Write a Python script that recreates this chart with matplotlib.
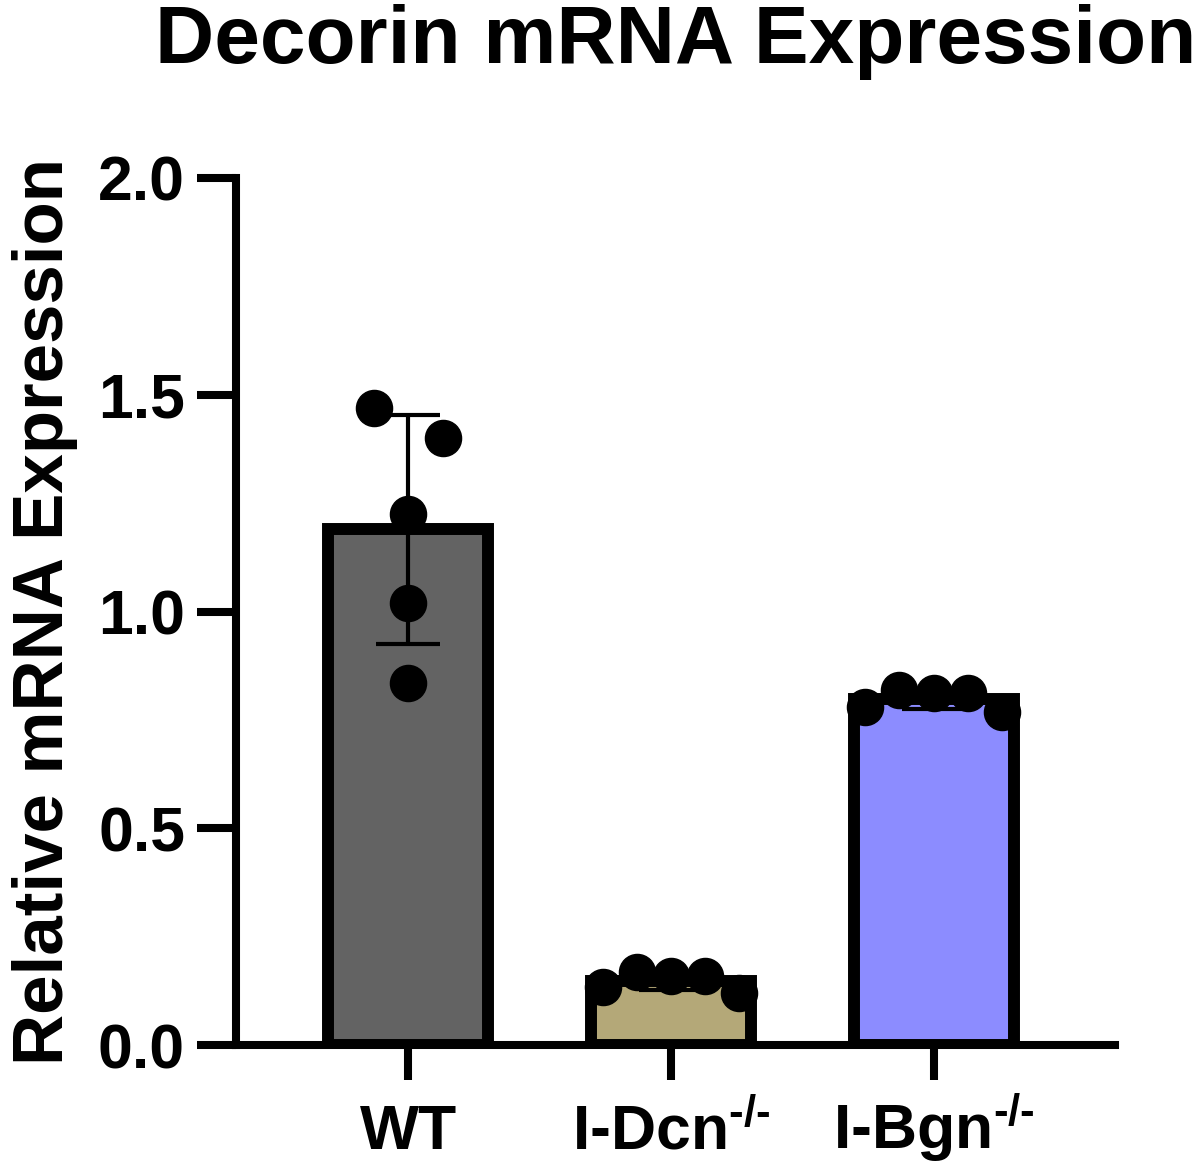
import numpy as np
import matplotlib
matplotlib.use('Agg')
import matplotlib.pyplot as plt

plt.rcParams['font.family'] = ['Liberation Sans', 'DejaVu Sans']
plt.rcParams['font.weight'] = 'bold'
plt.rcParams['mathtext.fontset'] = 'custom'
plt.rcParams['mathtext.rm'] = 'Liberation Sans:bold'
plt.rcParams['mathtext.bf'] = 'Liberation Sans:bold'
plt.rcParams['mathtext.it'] = 'Liberation Sans:bold'

# -- Data --
groupLabels = ['WT', r'I-Dcn$^{\text{-/-}}$', r'I-Bgn$^{\text{-/-}}$']
valuesWT = [1.47, 1.40, 1.225, 1.02, 0.835]
valuesDcn = [0.134, 0.168, 0.159, 0.159, 0.12]
valuesBgn = [0.78, 0.819, 0.812, 0.812, 0.768]
pointOffsets = [-0.13, 0.13, 0.0, 0.0, 0.0]
pointOffsetsRow = [-0.26, -0.13, 0.0, 0.13, 0.26]
barColors = ['#636363', '#b4a878', '#8c8cff']
yTicks = [0.0, 0.5, 1.0, 1.5, 2.0]

allValues = [valuesWT, valuesDcn, valuesBgn]
offsetsEach = [pointOffsets, pointOffsetsRow, pointOffsetsRow]
means = [np.mean(v) for v in allValues]
sds = [np.std(v, ddof=1) for v in allValues]
xPos = np.arange(len(groupLabels))

fig = plt.figure(figsize=(12, 11.67), dpi=100)
ax = fig.add_axes([0.197, 0.1045, 0.732, 0.743])

ax.bar(xPos, means, width=0.61, color=barColors, edgecolor='k', linewidth=8.6, zorder=1)
for ind in range(len(xPos)):
    ax.errorbar(xPos[ind], means[ind], yerr=sds[ind], color='k', elinewidth=3,
                capsize=23, capthick=3, zorder=2)
    ax.plot(xPos[ind] + np.array(offsetsEach[ind]), allValues[ind], 'o', color='k',
            markersize=26, zorder=3, clip_on=False)

ax.set_xlim(-0.655, 2.69)
ax.set_ylim(0, 2.0)
ax.set_yticks(yTicks)
ax.set_yticklabels(['%.1f' % t for t in yTicks])
ax.set_xticks(xPos)
ax.set_xticklabels(groupLabels)
for label in ax.get_xticklabels():
    label.set_verticalalignment('baseline')
ax.spines['top'].set_visible(False)
ax.spines['right'].set_visible(False)
ax.spines['left'].set_linewidth(5.8)
ax.spines['bottom'].set_linewidth(5.8)
ax.tick_params(axis='y', length=28, width=5.8, labelsize=45, pad=9)
ax.tick_params(axis='x', length=25, width=5.8, labelsize=45, pad=50)
ax.set_ylabel('Relative mRNA Expression', fontsize=51, fontweight='bold', labelpad=14)
ax.set_title('Decorin mRNA Expression', fontsize=59, fontweight='bold', pad=83)

plt.savefig('out.png', dpi=100)
